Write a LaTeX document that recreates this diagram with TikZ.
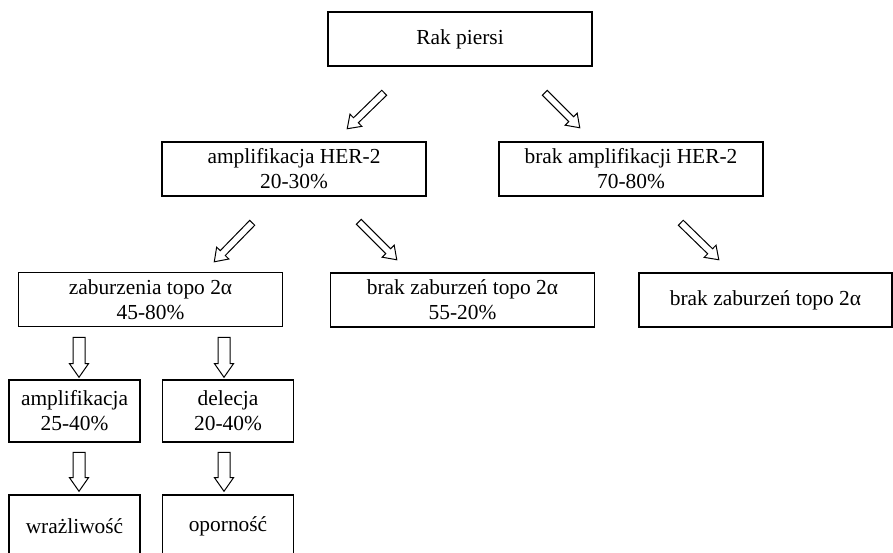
\documentclass[tikz,border=0pt]{standalone}
\usepackage{fontspec}
\setmainfont{Liberation Serif}
\usetikzlibrary{calc}
\usetikzlibrary{shapes.arrows}

\tikzset{
  box/.style={draw, line width=0.8pt, minimum width=132pt, minimum height=27pt,
    inner sep=0pt, align=center, font=\fontsize{10.7}{12.5}\selectfont},
  smallbox/.style={box, minimum width=65.5pt, minimum height=31pt},
  hollow/.style={draw, line width=0.5pt, single arrow, single arrow tip angle=70,
    single arrow head extend=2.5pt, inner sep=1.5pt,
    sloped, allow upside down, midway},
  vhollow/.style={hollow, single arrow head extend=1.75pt, inner sep=2.75pt}
}

\begin{document}
\begin{tikzpicture}[x=0.5pt,y=-0.5pt]
                \useasboundingbox (0,0) rectangle (893,552);
                \clip (0,0) rectangle (893,552);

                \node[box] (rak) at (460,39) {Rak piersi};

                \node[box] (her) at (294,169) {amplifikacja HER-2\\20-30\%};
                \node[box] (noher) at (631,169) {brak amplifikacji HER-2\\70-80\%};

                \node[box] (zab) at (150.5,299.5) {zaburzenia topo 2α\\45-80\%};
                \node[box] (brakzab) at (462.5,300) {brak zaburzeń topo 2α\\55-20\%};
                \node[box, minimum width=126.5pt] (brakzabb) at (765.5,300) {brak zaburzeń topo 2α};

                \node[smallbox] (amp) at (74.5,411) {amplifikacja\\25-40\%};
                \node[smallbox] (del) at (228,411) {delecja\\20-40\%};

                \node[smallbox] (wraz) at (74.5,526) {wrażliwość};
                \node[smallbox] (opor) at (228,526) {oporność};

                \coordinate (a1t) at (386,91);
                \coordinate (a1h) at (349,127);
                \coordinate (a2t) at (543,91);
                \coordinate (a2h) at (578,126);
                \coordinate (a3t) at (254,221);
                \coordinate (a3h) at (216,260);
                \coordinate (a4t) at (357,220);
                \coordinate (a4h) at (395,258);
                \coordinate (a5t) at (679,221);
                \coordinate (a5h) at (717,258);

                \coordinate (v1t) at (79,333);
                \coordinate (v1h) at (79,373);
                \coordinate (v2t) at (224,333);
                \coordinate (v2h) at (224,373);
                \coordinate (v3t) at (79,448);
                \coordinate (v3h) at (79,487);
                \coordinate (v4t) at (224,448);
                \coordinate (v4h) at (224,487);

                \foreach \t/\h in {a1t/a1h, a2t/a2h, a3t/a3h, a4t/a4h, a5t/a5h}
                  \path let \p1=($(\h)-(\t)$), \n1={veclen(\x1,\y1)} in
                    (\t) -- (\h) node[hollow, minimum height=\n1] {};

                \foreach \t/\h in {v1t/v1h, v2t/v2h, v3t/v3h, v4t/v4h}
                  \path let \p1=($(\h)-(\t)$), \n1={veclen(\x1,\y1)} in
                    (\t) -- (\h) node[vhollow, minimum height=\n1] {};
            \end{tikzpicture}
\end{document}
